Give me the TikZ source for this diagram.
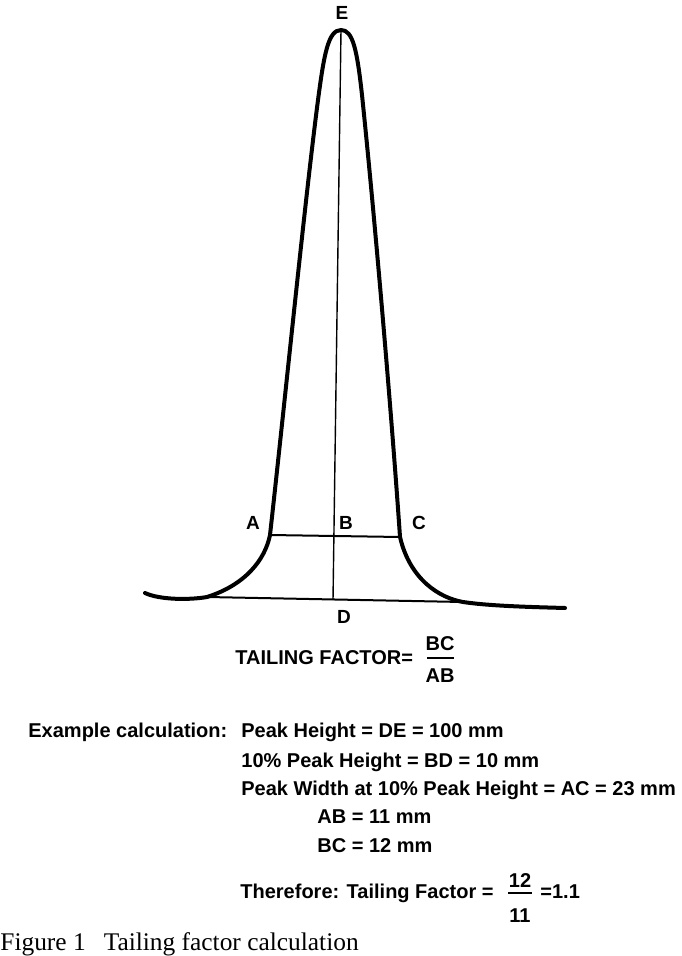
\documentclass[tikz,border=0pt]{standalone}
\usepackage{fontspec}
\setmainfont{Liberation Sans}
\newfontfamily\capfont{Liberation Serif}
\begin{document}
\begin{tikzpicture}[x=0.5pt,y=-0.5pt,
  peak/.style={line width=2pt, line cap=round, line join=round},
  guide/.style={line width=0.7pt},
  baseln/.style={line width=1pt},
  fracbar/.style={line width=1pt},
  lbl/.style={font=\fontsize{9.5}{11}\selectfont\bfseries, inner sep=0pt, anchor=base},
  txt/.style={font=\fontsize{10}{12}\selectfont\bfseries, inner sep=0pt, anchor=base west},
  ctxt/.style={font=\fontsize{10}{12}\selectfont\bfseries, inner sep=0pt, anchor=base},
]
\useasboundingbox (0,0) rectangle (681,956);

% key points of the peak
\coordinate (Etop) at (341,30);
\coordinate (Apt) at (270,535);
\coordinate (Cpt) at (400,537);
\coordinate (Dpt) at (333,600);
\coordinate (Lb) at (207,597);
\coordinate (Rb) at (463,602);
\coordinate (Ltail) at (145,593);
\coordinate (Rtail) at (565,608);

% peak curve
\draw[peak] (Ltail) .. controls (160,600) and (190,600) .. (Lb)
  .. controls (245,585) and (265,560) .. (Apt)
  .. controls (285,400) and (305,200) .. (318,100)
  .. controls (324,55) and (328,30) .. (Etop)
  .. controls (353,30) and (357,50) .. (362,95)
  .. controls (375,220) and (392,420) .. (Cpt)
  .. controls (410,580) and (440,598) .. (Rb)
  .. controls (490,606) and (530,607) .. (Rtail);

% construction lines
\draw[guide] (Etop) -- (Dpt);
\draw[baseln] (Apt) -- (Cpt);
\draw[baseln] (Lb) -- (Rb);

% point labels
\node[lbl] (E) at (342,20) {E};
\node[lbl] (A) at (253,529) {A};
\node[lbl] (B) at (346,529) {B};
\node[lbl] (C) at (419,529) {C};
\node[lbl] (D) at (344,623) {D};

% tailing factor formula
\node[txt] (tf) at (235,664) {TAILING FACTOR=};
\node[ctxt] (tfn) at (440,650) {BC};
\node[ctxt] (tfd) at (440,682) {AB};
\draw[fracbar] (427,658) -- (454,658);

% example calculation
\node[txt] (ex) at (28,737) {Example calculation:};
\node[txt] (l1) at (241,737) {Peak Height = DE = 100 mm};
\node[txt] (l2) at (241,767) {10\% Peak Height = BD = 10 mm};
\node[txt] (l3) at (241,795) {Peak Width at 10\% Peak Height = AC = 23 mm};
\node[txt] (l4) at (317,823) {AB = 11 mm};
\node[txt] (l5) at (317,852) {BC = 12 mm};

\node[txt] (th) at (240,898) {Therefore: Tailing Factor =};
\node[ctxt] (thn) at (520,887) {12};
\node[ctxt] (thd) at (520,922) {11};
\draw[fracbar] (508,893) -- (532,893);
\node[txt] (thr) at (540,898) {=1.1};

% caption
\node[inner sep=0pt, anchor=base west, font=\capfont\fontsize{12.7}{15}\selectfont] (cap) at (0,950) {Figure 1\hspace{9pt}Tailing factor calculation};
\end{tikzpicture}
\end{document}
